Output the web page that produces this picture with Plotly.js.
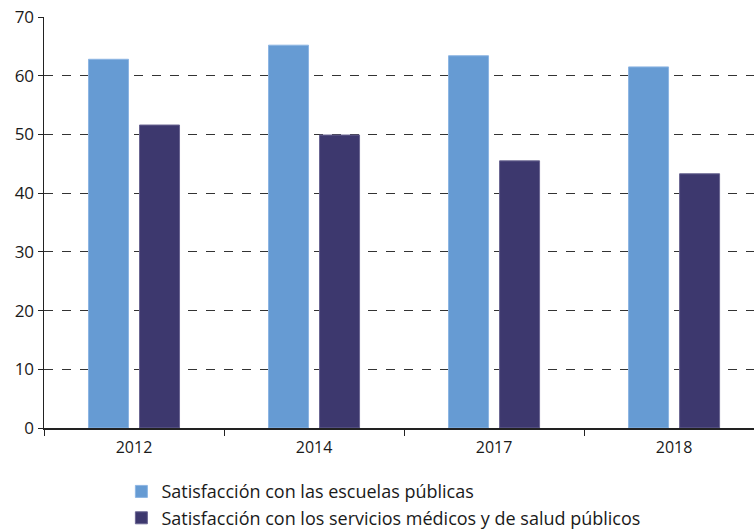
<!DOCTYPE html>
<html>
<head>
<meta charset="utf-8">
<script src="https://cdn.plot.ly/plotly-3.0.1.min.js"></script>
<style>
  body { margin: 0; padding: 0; background: #fff; }
  #chart { width: 754px; height: 529px; }
</style>
</head>
<body>
<div id="chart"></div>
<script>
// Years
var years = ["2012", "2014", "2017", "2018"];
// Series
var escuelas = [62.8, 65.2, 63.4, 61.5];
var salud = [51.6, 49.9, 45.5, 43.3];

var trace_esc = {
    x: years,
    y: escuelas,
    type: 'bar',
    name: 'Satisfacción con las escuelas públicas',
    marker: { color: '#669bd3', line: { color: '#8db5e3', width: 1 } },
    hoverinfo: 'y'
};
var trace_sal = {
    x: years,
    y: salud,
    type: 'bar',
    name: 'Satisfacción con los servicios médicos y de salud públicos',
    marker: { color: '#3d386e', line: { color: '#6a6592', width: 1 } },
    hoverinfo: 'y'
};

var layout = {
    width: 754,
    height: 529,
    margin: { l: 44, r: 0, t: 17, b: 101, autoexpand: false },
    barmode: 'group',
    bargap: 0.433,
    bargroupgap: 0.216,
    paper_bgcolor: '#fff',
    plot_bgcolor: '#fff',
    font: { family: '"Open Sans", Lato, sans-serif', color: '#1a1a1a', size: 16 },
    xaxis: {
        type: 'category',
        range: [-0.5, 3.444],
        showline: true,
        linecolor: '#222',
        linewidth: 1.5,
        ticks: 'outside',
        tickson: 'boundaries',
        ticklen: 6,
        tickcolor: '#222',
        showgrid: false,
        tickfont: { size: 16 },
        ticklabelstandoff: 4,
        fixedrange: true
    },
    yaxis: {
        range: [0, 70],
        dtick: 10,
        showline: true,
        linecolor: '#222',
        linewidth: 1.5,
        ticks: 'outside',
        ticklen: 5,
        tickcolor: '#222',
        showgrid: true,
        gridcolor: '#333',
        griddash: 'dash',
        gridwidth: 1,
        zeroline: false,
        tickfont: { size: 17 },
        fixedrange: true
    },
    showlegend: true,
    legend: {
        orientation: 'v',
        x: 0.109,
        xanchor: 'left',
        y: -0.11,
        yanchor: 'top',
        font: { size: 18, color: '#1a1a1a' },
        tracegroupgap: 0,
        itemwidth: 30,
        bgcolor: 'rgba(0,0,0,0)'
    }
};

Plotly.newPlot('chart', [trace_esc, trace_sal], layout, { displayModeBar: false, staticPlot: true });
</script>
</body>
</html>
